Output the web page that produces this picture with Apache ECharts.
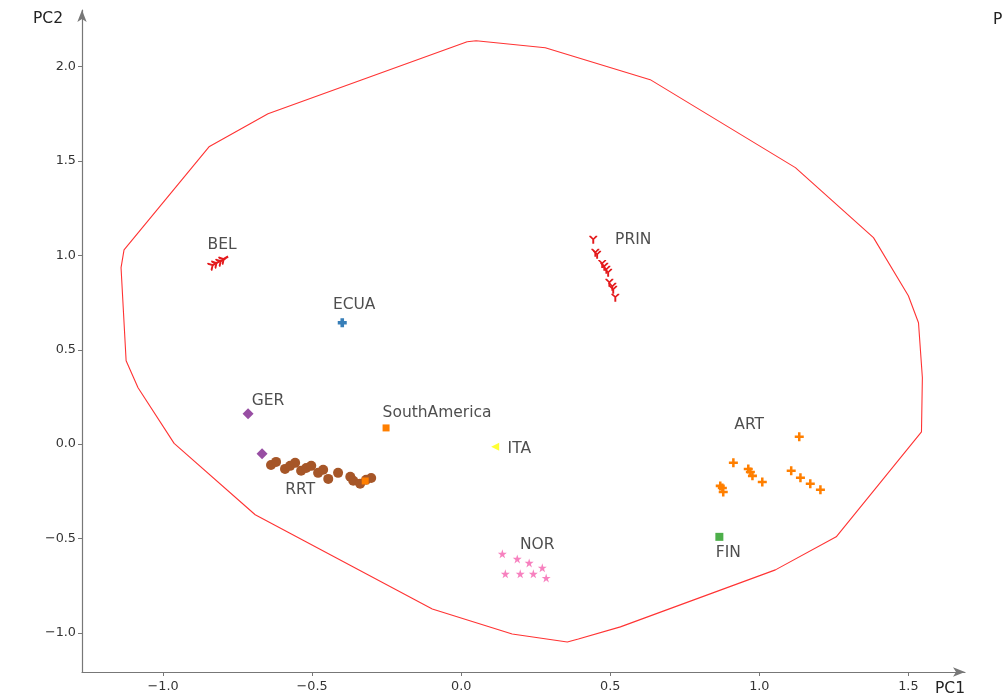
<!DOCTYPE html>
<html>
<head>
<meta charset="utf-8">
<script src="https://cdn.jsdelivr.net/npm/echarts@6/dist/echarts.min.js"></script>
<style>html,body{margin:0;padding:0;background:#fff}#c{width:1007px;height:700px}</style>
</head>
<body>
<div id="c"></div>
<script>
// ---- data ----
const xTicks = [-1.0, -0.5, 0.0, 0.5, 1.0, 1.5];
const yTicks = [-1.0, -0.5, 0.0, 0.5, 1.0, 1.5, 2.0];

const BEL = [[-0.832,0.950],[-0.819,0.961],[-0.805,0.971],[-0.795,0.982]];
const PRIN = [[0.443,1.083],[0.450,1.014],[0.456,1.003],[0.473,0.955],[0.480,0.940],[0.487,0.924],[0.493,0.908],[0.497,0.855],[0.507,0.834],[0.510,0.818],[0.517,0.776]];
const ECUA = [[-0.399,0.643]];
const GER = [[-0.715,0.161],[-0.668,-0.051]];
const RRT = [[-0.638,-0.110],[-0.621,-0.094],[-0.591,-0.131],[-0.574,-0.115],[-0.557,-0.099],[-0.537,-0.141],[-0.520,-0.126],[-0.503,-0.115],[-0.480,-0.152],[-0.463,-0.136],[-0.446,-0.184],[-0.413,-0.152],[-0.372,-0.173],[-0.362,-0.194],[-0.339,-0.210],[-0.319,-0.189],[-0.302,-0.179]];
const SouthAmerica = [[-0.252,0.086],[-0.322,-0.195]];
const ITA = [[0.114,-0.014]];
const ART = [[0.913,-0.099],[0.869,-0.221],[0.876,-0.232],[0.879,-0.253],[0.963,-0.131],[0.970,-0.147],[0.977,-0.168],[1.010,-0.200],[1.134,0.039],[1.107,-0.141],[1.138,-0.178],[1.171,-0.210],[1.205,-0.242]];
const FIN = [[0.866,-0.491]];
const NOR = [[0.138,-0.581],[0.188,-0.608],[0.228,-0.629],[0.272,-0.655],[0.148,-0.687],[0.198,-0.687],[0.242,-0.687],[0.285,-0.709]];
const hull = [[0.020,2.132],[0.050,2.137],[0.282,2.100],[0.634,1.931],[1.121,1.465],[1.383,1.094],[1.500,0.786],[1.534,0.643],[1.547,0.352],[1.544,0.065],[1.258,-0.491],[1.054,-0.666],[0.534,-0.968],[0.393,-1.032],[0.356,-1.048],[0.171,-1.006],[-0.097,-0.873],[-0.691,-0.374],[-0.963,0.004],[-1.084,0.299],[-1.124,0.442],[-1.141,0.935],[-1.131,1.029],[-0.846,1.575],[-0.648,1.750],[0.020,2.132]];
const groupLabels = [["BEL",-0.802,1.056],["PRIN",0.577,1.083],["ECUA",-0.359,0.738],["GER",-0.648,0.229],["SouthAmerica",-0.081,0.166],["ITA",0.195,-0.025],["RRT",-0.540,-0.242],["ART",0.966,0.102],["NOR",0.255,-0.534],["FIN",0.896,-0.576]];

// ---- symbols ----
const Y_PATH = 'path://M0,0 L2,0 L5,3 L8,0 L10,0 L10,1.2 L6.2,4.6 L6.2,10 L3.8,10 L3.8,4.6 L0,1.2 Z';
const PLUS_PATH = 'path://M3.6,0 H6.4 V3.6 H10 V6.4 H6.4 V10 H3.6 V6.4 H0 V3.6 H3.6 Z';
const FATPLUS_PATH = 'path://M3,0 H7 V3 H10 V7 H7 V10 H3 V7 H0 V3 H3 Z';
const STAR_PATH = 'path://M5,0 L6.18,3.62 L10,3.62 L6.91,5.86 L8.09,9.51 L5,7.24 L1.91,9.51 L3.09,5.86 L0,3.62 L3.84,3.62 Z';

const fmt = v => (Math.abs(v) < 1e-9 ? '0.0' : v.toFixed(1).replace('-', '\u2212'));
const font = 'DejaVu Sans';

function sc(name, data, symbol, size, color, rotate) {
  return { name, type: 'scatter', data, symbol, symbolSize: size, symbolRotate: rotate || 0,
    itemStyle: { color, opacity: 1 }, silent: true, z: 3 };
}

const chart = echarts.init(document.getElementById('c'));
chart.setOption({
  animation: false,
  backgroundColor: '#fff',
  grid: { left: 82, right: 42, top: 10, bottom: 28 },
  xAxis: {
    type: 'value', min: -1.272, max: 1.69,
    splitLine: { show: false },
    axisLine: { onZero: false, symbol: ['none', 'arrow'], symbolSize: [7, 12], lineStyle: { color: '#777', width: 1.2 } },
    axisTick: { show: true, length: 4, customValues: xTicks, lineStyle: { color: '#777' } },
    axisLabel: { customValues: xTicks, formatter: fmt, color: '#333', fontSize: 12.8, fontFamily: font, margin: 8 }
  },
  yAxis: {
    type: 'value', min: -1.207, max: 2.30,
    splitLine: { show: false },
    axisLine: { onZero: false, symbol: ['none', 'arrow'], symbolSize: [7, 12], lineStyle: { color: '#777', width: 1.2 } },
    axisTick: { show: true, length: 4, customValues: yTicks, lineStyle: { color: '#777' } },
    axisLabel: { customValues: yTicks, formatter: fmt, color: '#333', fontSize: 12.8, fontFamily: font, margin: 6 }
  },
  series: [
    { name: 'hull', type: 'line', data: hull, symbol: 'none', smooth: false,
      lineStyle: { color: '#ff3333', width: 1.1 }, silent: true, z: 2 },
    sc('BEL', BEL, Y_PATH, 9, '#e41a1c', 120),
    sc('PRIN', PRIN, Y_PATH, 8, '#e41a1c', 0),
    sc('ECUA', ECUA, FATPLUS_PATH, 9, '#377eb8'),
    sc('GER', GER, 'diamond', 11, '#984ea3'),
    sc('RRT', RRT, 'circle', 10, '#a65628'),
    sc('SouthAmerica', SouthAmerica, 'rect', 7, '#ff7f00'),
    sc('ITA', ITA, 'triangle', 8, '#ffff33', 90),
    sc('ART', ART, PLUS_PATH, 9, '#ff7f00'),
    sc('FIN', FIN, 'rect', 8, '#4daf4a'),
    sc('NOR', NOR, STAR_PATH, 9, '#f781bf'),
    { name: 'labels', type: 'scatter', symbolSize: 0, silent: true, z: 5,
      data: groupLabels.map(d => ({ name: d[0], value: [d[1], d[2]] })),
      label: { show: true, position: 'inside', formatter: p => p.name, color: '#222', fontSize: 15.5, fontFamily: font } }
  ],
  graphic: [
    { type: 'text', left: 33, top: 11, style: { text: 'PC2', fill: '#222', font: '15.5px "DejaVu Sans"' } },
    { type: 'text', left: 935, top: 681, style: { text: 'PC1', fill: '#222', font: '15.5px "DejaVu Sans"' } },
    { type: 'text', left: 993, top: 12, style: { text: 'P', fill: '#222', font: '15.5px "DejaVu Sans"' } }
  ]
});
</script>
</body>
</html>
